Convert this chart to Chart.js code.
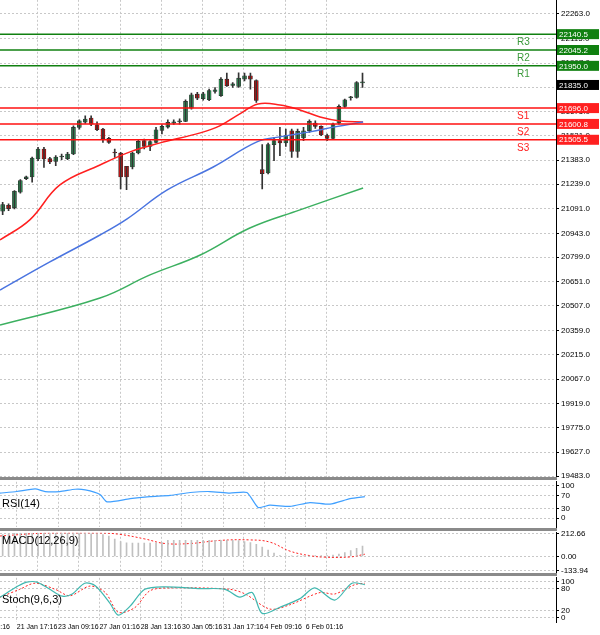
<!DOCTYPE html>
<html>
<head>
<meta charset="utf-8">
<script src="https://cdn.jsdelivr.net/npm/chart.js@4.4.0/dist/chart.umd.min.js"></script>
<style>
  body { margin: 0; background: #fff; width: 600px; height: 635px; overflow: hidden; font-family: "Liberation Sans", sans-serif; }
  .pane { position: absolute; left: 0; width: 600px; }
  .sep { position: absolute; left: 0; width: 557px; height: 3px; background: #8a8a8a; z-index: 5; }
</style>
</head>
<body>
<div class="pane" style="top:-7px;height:491px"><canvas id="main"></canvas></div>
<div class="sep" style="top:477px"></div>
<div class="pane" style="top:475px;height:59px"><canvas id="rsi"></canvas></div>
<div class="sep" style="top:528px"></div>
<div class="pane" style="top:526px;height:53px"><canvas id="macd"></canvas></div>
<div class="sep" style="top:573px"></div>
<div class="pane" style="top:571px;height:66px"><canvas id="stoch"></canvas></div>
<script>
// candles, one per 4h bar
const opens  = [21076,21112,21096,21190,21272,21282,21390,21450,21392,21376,21402,21392,21420,21580,21612,21636,21596,21570,21514,21430,21426,21346,21342,21426,21500,21466,21490,21562,21582,21606,21614,21616,21696,21780,21752,21746,21796,21770,21870,21832,21826,21870,21890,21862,21326,21306,21476,21500,21486,21560,21436,21516,21560,21606,21586,21530,21514,21606,21706,21758,21760,21848];
const closes = [21116,21092,21196,21260,21282,21396,21450,21390,21372,21402,21406,21420,21580,21620,21630,21600,21566,21510,21490,21426,21282,21282,21426,21496,21466,21494,21566,21586,21610,21614,21618,21736,21776,21756,21782,21802,21806,21870,21830,21842,21876,21890,21870,21742,21302,21476,21500,21486,21530,21436,21556,21560,21616,21586,21534,21514,21600,21706,21746,21760,21850,21850];
const highs  = [21130,21120,21200,21266,21288,21402,21460,21460,21400,21410,21420,21430,21590,21626,21650,21650,21614,21574,21520,21450,21430,21346,21430,21506,21510,21500,21580,21596,21626,21626,21632,21746,21786,21790,21790,21810,21820,21880,21906,21850,21908,21906,21906,21866,21476,21486,21520,21580,21570,21570,21570,21580,21626,21620,21590,21540,21606,21716,21750,21766,21856,21906];
const lows   = [21056,21080,21090,21184,21266,21250,21380,21340,21362,21350,21386,21386,21416,21570,21604,21590,21560,21490,21484,21400,21210,21206,21330,21420,21450,21440,21486,21540,21576,21598,21600,21614,21690,21746,21744,21740,21786,21766,21826,21820,21820,21860,21810,21730,21210,21300,21380,21410,21466,21400,21400,21500,21550,21574,21530,21500,21510,21600,21700,21744,21756,21820];

// moving averages (bar index, price)
const maRedX   = [-0.45,4.6,9.7,16.5,21.6,26.7,33.5,36.8,40.2,43.3,47.0,50.4,53.8,57.2,61.1];
const maRed    = [20903,21024,21234,21354,21433,21487,21547,21589,21661,21721,21715,21685,21643,21619,21613];
const maBlueX  = [-0.45,8.0,16.5,21.1,27.9,35.7,43.1,47.0,52.1,56.3,61.1];
const maBlue   = [20602,20771,20933,21030,21204,21342,21493,21523,21553,21583,21613];
const maGreenX = [-0.45,16.5,24.97,33.5,41.9,50.4,61.1];
const maGreen  = [20392,20554,20693,20813,20975,21084,21216];

// pivot levels
const resNames = ['R3','R2','R1'];
const resLevels = [22140.5,22045.2,21950.0];
const supNames = ['S1','S2','S3'];
const supLevels = [21696.0,21600.8,21505.5];
const lastPrice = 21835.0;
const priceTicks = [22263,22115,21967,21819,21675,21531,21383,21239,21091,20943,20799,20651,20507,20359,20215,20067,19919,19775,19627,19483];

// indicators (bar index, value)
const rsiX = [-0.45,2.4,5.5,7.2,9.7,12.3,14.0,16.5,17.7,21.6,24.97,28.4,31.8,35.1,38.5,41.4,43.3,45.3,48.7,52.1,55.5,58.9,61.4];
const rsi  = [77,82,90,82,82,89,87,73,50,60,66,70,79,82,77,79,33,40,36,48,43,60,66];
const macdHist = [205,212,218,220,220,220,220,220,218,218,218,216,216,214,214,212,210,205,190,163,140,128,125,124,125,126,128,130,150,150,150,150,150,150,150,150,150,150,150,150,148,140,130,112,86,60,30,8,5,4,4,5,5,6,6,8,12,20,35,55,75,96];
const macdSigX = [-0.45,8.0,16.5,19.9,24.1,27.5,31.8,36.8,41.9,45.3,48.7,52.1,54.6,58.9,61.4];
const macdSig  = [192,221,221,207,164,121,121,150,155,134,49,6,-8,-6,20];
const stoX = [-0.45,2.6,4.1,5.8,8.0,10.1,11.8,13.9,15.7,18.2,19.6,21.6,24.1,27.5,33.5,37.7,40.2,42.3,44.0,47.0,50.4,52.9,56.3,59.2,61.4];
const stoK = [57,88,99,99,79,60,66,96,89,40,7,32,79,86,81,79,57,70,12,29,53,83,49,96,92];
const stoDX = [-0.45,2.9,5.5,8.9,11.4,14.8,17.4,19.6,22.4,24.97,28.4,38.5,41.1,45.3,48.7,53.8,56.3,59.7,61.4];
const stoD  = [57,79,96,79,61,88,70,15,28,75,83,79,66,24,36,70,66,92,96];

const dateTicks = [2.4,9.4,16.4,23.4,30.4,37.4,44.4,51.4];
const dateLabels = ['6:16','21 Jan 17:16','23 Jan 09:16','27 Jan 01:16','28 Jan 13:16','30 Jan 05:16','31 Jan 17:16','4 Feb 09:16','6 Feb 01:16'];

const X_MIN = -0.45, X_MAX = 93.8;
const FONT = {family: '"Liberation Sans", sans-serif', size: 8};
const idx = opens.map((o, i) => i);
const pts = (xs, ys) => xs.map((x, i) => ({x: x, y: ys[i]}));
const flat = (v) => [{x: X_MIN, y: v}, {x: X_MAX, y: v}];

function xAxis(){
    return {
        type: 'linear', min: X_MIN, max: X_MAX, offset: false,
        afterBuildTicks: s => { s.ticks = dateTicks.map(v => ({value: v})); },
        afterFit: s => { s.height = 0; },
        border: {display: false, dash: [2, 2]},
        grid: {color: '#c8c8c8', drawTicks: false, tickLength: 0},
        ticks: {display: false}
    };
}
function yAxis(min, max, ticks, fmt){
    return {
        position: 'right', min: min, max: max,
        afterFit: s => { s.width = 44; },
        afterBuildTicks: s => { s.ticks = ticks.map(v => ({value: v})); },
        border: {display: true, color: '#000', width: 1, dash: [2, 2]},
        grid: {color: '#c8c8c8', tickLength: 3, tickColor: '#000'},
        ticks: {font: FONT, color: '#000', padding: 2, autoSkip: false, callback: fmt}
    };
}
Chart.defaults.animation = false;
Chart.defaults.responsive = true;
Chart.defaults.maintainAspectRatio = false;
Chart.defaults.plugins.legend.display = false;
Chart.defaults.plugins.tooltip.enabled = false;

function tag(ctx, y, text, bg, fg){
    ctx.font = '8px "Liberation Sans", sans-serif';
    ctx.fillStyle = bg;
    ctx.fillRect(557, y - 5, 42, 10);
    ctx.fillStyle = fg;
    ctx.textAlign = 'left';
    ctx.textBaseline = 'middle';
    ctx.fillText(text, 559, y + 0.5);
}

const mainLabels = {
    id: 'mainLabels',
    afterDraw(chart){
        const ctx = chart.ctx, y = chart.scales.y;
        ctx.save();
        ctx.textAlign = 'left'; ctx.textBaseline = 'middle';
        resLevels.forEach((v, i) => {
            const py = y.getPixelForValue(v);
            ctx.fillStyle = '#3c9a3c';
            ctx.font = '10px "Liberation Sans", sans-serif';
            ctx.fillText(resNames[i], 517, py + 8);
            tag(ctx, py, v.toFixed(1), '#108010', '#fff');
        });
        supLevels.forEach((v, i) => {
            const py = y.getPixelForValue(v);
            ctx.fillStyle = '#ff2020';
            ctx.font = '10px "Liberation Sans", sans-serif';
            ctx.fillText(supNames[i], 517, py + 8);
            tag(ctx, py, v.toFixed(1), '#ff2020', '#fff');
        });
        tag(ctx, y.getPixelForValue(lastPrice), lastPrice.toFixed(1), '#000', '#fff');
        ctx.restore();
    }
};

const candleColors = opens.map((o, i) => closes[i] >= o ? '#2e9a5a' : '#e01010');
const lvl = (v, c) => ({type: 'line', data: flat(v), borderColor: c, borderWidth: 1.5, pointRadius: 0});

new Chart(document.getElementById('main'), {
    type: 'bar',
    data: {
        datasets: [
            lvl(resLevels[0], '#108010'), lvl(resLevels[1], '#108010'), lvl(resLevels[2], '#108010'),
            lvl(supLevels[0], '#ff1010'), lvl(supLevels[1], '#ff1010'), lvl(supLevels[2], '#ff1010'),
            {type: 'line', data: pts(maGreenX, maGreen), borderColor: '#3cb060', borderWidth: 1.5, pointRadius: 0, tension: 0.4},
            {type: 'line', data: pts(maBlueX, maBlue), borderColor: '#4a74e0', borderWidth: 1.5, pointRadius: 0, tension: 0.4},
            {type: 'line', data: pts(maRedX, maRed), borderColor: '#ff2020', borderWidth: 1.5, pointRadius: 0, tension: 0.4},
            {data: idx.map(i => ({x: i, y: [lows[i], highs[i]]})), backgroundColor: '#333', barThickness: 1, grouped: false},
            {data: idx.map(i => ({x: i, y: [opens[i], closes[i]]})), backgroundColor: candleColors, borderColor: '#202020', borderWidth: 0.6, borderSkipped: false, barThickness: 4, grouped: false, minBarLength: 1}
        ]
    },
    options: {
        layout: {padding: 0},
        scales: {
            x: xAxis(),
            y: yAxis(19477, 22347, priceTicks, v => v.toFixed(1))
        }
    },
    plugins: [mainLabels]
});

function paneLabel(text, dy){
    return {
        id: 'paneLabel',
        afterDraw(chart){
            const ctx = chart.ctx;
            ctx.save();
            ctx.font = '11px "Liberation Sans", sans-serif';
            ctx.fillStyle = '#000';
            ctx.textAlign = 'left'; ctx.textBaseline = 'middle';
            ctx.fillText(text, 2, chart.chartArea.top + dy);
            ctx.restore();
        }
    };
}

new Chart(document.getElementById('rsi'), {
    type: 'line',
    data: {datasets: [{data: pts(rsiX, rsi), borderColor: '#40a0ff', borderWidth: 1.2, pointRadius: 0, tension: 0.2}]},
    options: {
        layout: {padding: 0},
        scales: {x: xAxis(), y: yAxis(-28, 112, [100, 70, 30, 0], v => String(v))}
    },
    plugins: [paneLabel('RSI(14)', 22)]
});

new Chart(document.getElementById('macd'), {
    type: 'bar',
    data: {datasets: [
        {data: idx.map(i => ({x: i, y: macdHist[i]})), backgroundColor: '#c0c0c0', barThickness: 1},
        {type: 'line', data: pts(macdSigX, macdSig), borderColor: '#ff2020', borderWidth: 1, borderDash: [2, 2], pointRadius: 0, tension: 0.4}
    ]},
    options: {
        layout: {padding: 0},
        scales: {x: xAxis(), y: yAxis(-150, 222, [212.66, 0, -133.94], v => v.toFixed(2))}
    },
    plugins: [paneLabel('MACD(12,26,9)', 8)]
});

const dateAxis = {
    id: 'dateAxis',
    afterDraw(chart){
        const ctx = chart.ctx, x = chart.scales.x;
        ctx.save();
        ctx.font = '7px "Liberation Sans", sans-serif';
        ctx.fillStyle = '#000';
        ctx.textAlign = 'left'; ctx.textBaseline = 'middle';
        dateLabels.forEach((label, i) => {
            const px = i === 0 ? 10 - ctx.measureText(label).width : x.getPixelForValue(dateTicks[i - 1]);
            ctx.fillText(label, px, chart.chartArea.bottom + 5);
        });
        ctx.restore();
    }
};

new Chart(document.getElementById('stoch'), {
    type: 'line',
    data: {datasets: [
        {data: pts(stoX, stoK), borderColor: '#40b8b0', borderWidth: 1.2, pointRadius: 0, tension: 0.3},
        {data: pts(stoDX, stoD), borderColor: '#ff2020', borderWidth: 1, borderDash: [2, 2], pointRadius: 0, tension: 0.3}
    ]},
    options: {
        layout: {padding: {top: 0, bottom: 15}},
        scales: {x: xAxis(), y: yAxis(-12, 111, [100, 80, 20, 0], v => String(v))}
    },
    plugins: [paneLabel('Stoch(9,6,3)', 22), dateAxis]
});
</script>
</body>
</html>
